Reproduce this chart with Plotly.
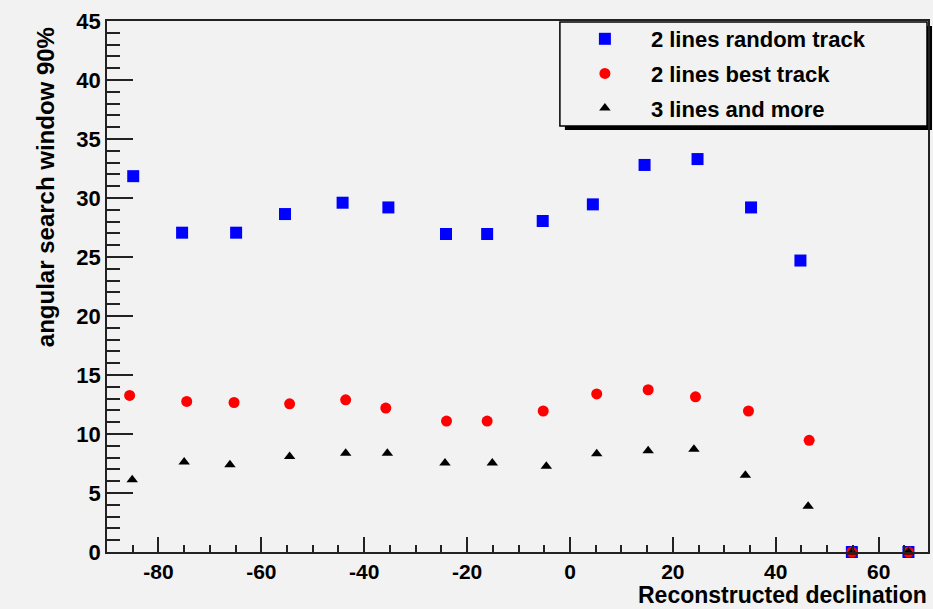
import plotly.graph_objects as go

# --- data ---
blue_x = [-84.9, -75.4, -64.9, -55.4, -44.2, -35.3, -24.1, -16.1, -5.3, 4.45, 14.5, 24.8, 35.2, 44.8, 54.8, 65.8]
blue_y = [31.85, 27.06, 27.06, 28.64, 29.6, 29.2, 26.95, 26.95, 28.05, 29.46, 32.8, 33.3, 29.2, 24.7, 0, 0]

red_x = [-85.6, -74.5, -65.3, -54.5, -43.6, -35.8, -24.0, -16.1, -5.2, 5.2, 15.2, 24.4, 34.7, 46.5, 54.8, 65.8]
red_y = [13.27, 12.76, 12.67, 12.56, 12.9, 12.2, 11.1, 11.1, 11.95, 13.4, 13.75, 13.15, 11.95, 9.46, 0, 0]

black_x = [-85.1, -75.0, -66.1, -54.5, -43.6, -35.5, -24.3, -15.1, -4.6, 5.2, 15.2, 24.1, 34.1, 46.3, 54.8, 65.8]
black_y = [6.13, 7.63, 7.4, 8.1, 8.36, 8.36, 7.55, 7.55, 7.26, 8.33, 8.59, 8.7, 6.5, 3.87, 0, 0]

names = ["2 lines random track", "2 lines best track", "3 lines and more"]
x_ticks = [-80, -60, -40, -20, 0, 20, 40, 60]
y_ticks = [0, 5, 10, 15, 20, 25, 30, 35, 40, 45]

BG = "#f2f2f2"
FONT = "Liberation Sans, Arial, Helvetica, sans-serif"

fig = go.Figure()
fig.add_trace(go.Scatter(x=blue_x, y=blue_y, mode="markers", name=names[0], legendgroup="a",
                         marker=dict(symbol="square", size=12, color="#0000ff", line=dict(width=0)),
                         cliponaxis=False))
fig.add_trace(go.Scatter(x=red_x, y=red_y, mode="markers", name=names[1], legendgroup="b",
                         marker=dict(symbol="circle", size=11, color="#ff0000", line=dict(width=0)),
                         cliponaxis=False))
fig.add_trace(go.Scatter(x=black_x, y=black_y, mode="markers", name=names[2], legendgroup="c",
                         marker=dict(symbol="triangle-up", size=10, color="#000000", line=dict(width=0)),
                         cliponaxis=False))

# legend frame with ROOT-like shadow
fig.add_shape(type="rect", xref="paper", yref="paper", layer="below",
              x0=(566 - 107) / 823, x1=(934 - 107) / 823,
              y0=(552 - 130) / 531, y1=(552 - 26) / 531,
              fillcolor="#000000", line=dict(width=0))
fig.add_shape(type="rect", xref="paper", yref="paper", layer="below",
              x0=(561 - 107) / 823, x1=(929 - 107) / 823,
              y0=(552 - 126) / 531, y1=(552 - 22) / 531,
              fillcolor=BG, line=dict(color="#000000", width=1.5))

fig.update_layout(
    width=933, height=609,
    margin=dict(l=107, r=3, t=21, b=57),
    paper_bgcolor=BG, plot_bgcolor=BG,
    font=dict(family=FONT, color="#000000"),
    showlegend=True,
    legend=dict(x=(560 - 107) / 823, y=(552 - 18) / 531, xanchor="left", yanchor="top",
                bgcolor="rgba(0,0,0,0)", borderwidth=0, itemwidth=82,
                tracegroupgap=3,
                font=dict(family=FONT, size=22, weight="bold", color="#000000")),
    xaxis=dict(range=[-90, 69.6], tickvals=x_ticks, ticktext=[str(v) for v in x_ticks],
               ticks="inside", ticklen=15, tickwidth=1.5, tickcolor="#222",
               minor=dict(dtick=5, ticks="inside", ticklen=7, tickwidth=1.5, tickcolor="#222"),
               showline=True, linecolor="#222", linewidth=1.5, mirror=True,
               showgrid=False, zeroline=False,
               tickfont=dict(family=FONT, size=21, weight="bold")),
    yaxis=dict(range=[0, 45], tickvals=y_ticks, ticktext=[str(v) for v in y_ticks],
               ticks="inside", ticklen=26, tickwidth=1.5, tickcolor="#222",
               minor=dict(dtick=1, ticks="inside", ticklen=13, tickwidth=1.5, tickcolor="#222"),
               showline=True, linecolor="#222", linewidth=1.5, mirror=True,
               showgrid=False, zeroline=False,
               tickfont=dict(family=FONT, size=22, weight="bold")),
    annotations=[
        dict(text="Reconstructed declination", xref="paper", yref="paper",
             x=1.0, y=(552 - 609) / 531, xanchor="right", yanchor="bottom", showarrow=False,
             borderpad=0,
             font=dict(family=FONT, size=23, weight="bold")),
        dict(text="angular search window 90%", xref="paper", yref="paper", textangle=-90,
             x=(45 - 107) / 823, y=(552 - 187) / 531, xanchor="center", yanchor="middle", showarrow=False,
             font=dict(family=FONT, size=24, weight="bold")),
    ],
)

fig.write_html("out.html")
